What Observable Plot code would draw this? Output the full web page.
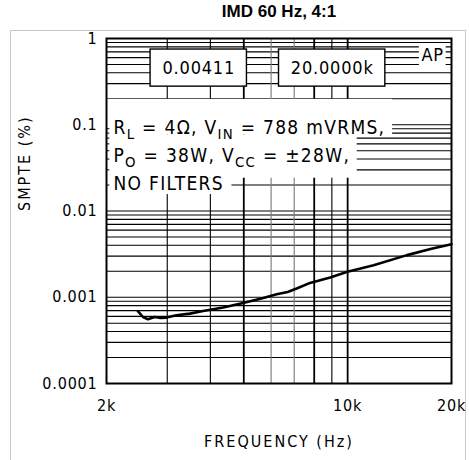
<!DOCTYPE html>
<html>
<head>
<meta charset="utf-8">
<script src="https://cdn.jsdelivr.net/npm/d3@7"></script>
<script src="https://cdn.jsdelivr.net/npm/@observablehq/plot@0.6"></script>
<style>
  body { margin: 0; background: #fff; }
  #wrap { position: relative; width: 469px; height: 460px; overflow: hidden; background: #fff; }
  #frame { position: absolute; left: 10px; top: 30px; width: 456px; height: 440px; border: 1px solid #c8c8c8; box-sizing: border-box; }
  #chart { position: absolute; left: 0; top: 0; }
  #title { position: absolute; left: 0; top: 2px; width: 558px; text-align: center;
           font-family: "Liberation Sans", Arial, sans-serif; font-weight: bold; font-size: 17px; line-height: 20px; color: #000; }
</style>
</head>
<body>
<div id="wrap">
  <div id="frame"></div>
  <div id="chart"></div>
  <div id="title">IMD 60 Hz, 4:1</div>
</div>
<script>
// ---- data ----
const freqHz = [2466, 2551, 2637, 2758, 2870, 2983, 3190, 3486, 3811, 4356, 4980, 5694, 6228, 6700, 7118, 7780, 8900, 9990, 11890, 14860, 17500, 20000];
const smptePct = [0.00069, 0.00059, 0.000555, 0.00059, 0.000575, 0.000581, 0.000618, 0.000646, 0.000693, 0.000759, 0.000859, 0.000982, 0.001084, 0.00115, 0.001262, 0.001466, 0.001694, 0.00197, 0.002355, 0.003079, 0.00365, 0.00411];

const xTicks = [2000, 10000, 20000];
const xTickLabels = ["2k", "10k", "20k"];
const yTicks = [1, 0.1, 0.01, 0.001, 0.0001];
const yTickLabels = ["1", "0.1", "0.01", "0.001", "0.0001"];

const gridFreqs = [3000, 4000, 5000, 6000, 7000, 8000, 9000, 10000];
const gridDecades = [0.0001, 0.001, 0.01, 0.1];
const gridMultipliers = [1, 2, 3, 4, 5, 6, 7, 8, 9];

const readoutValues = ["0.00411", "20.0000k"];
const noteLines = ["R_{L} = 4Ω, V_{IN} = 788 mVRMS,", "P_{O} = 38W, V_{CC} = ±28W,", "NO FILTERS"];
const badge = "AP";
const xTitle = "FREQUENCY (Hz)";
const yTitle = "SMPTE (%)";

// ---- annotation placement (data coordinates) ----
const readoutBoxes = [
  {x1: 2684, x2: 5106, y1: 0.745, y2: 0.2767, cx: 3702},
  {x1: 6325, x2: 12860, y1: 0.745, y2: 0.2767, cx: 9020}
];
const readoutY = 0.454;
const noteX = 2095;
const noteY = [0.0923, 0.0436, 0.0206];
const masks = [
  {x1: 2000, x2: 13500, y1: 0.197, y2: 0.076},
  {x1: 2000, x2: 10660, y1: 0.076, y2: 0.024},
  {x1: 2000, x2: 4620, y1: 0.024, y2: 0.0155},
  {x1: 16140, x2: 19300, y1: 0.86, y2: 0.47}
];
const badgePos = {x: 17640, y: 0.64};
const edgeTicks = [0.09, 0.08, 0.07, 0.06, 0.05, 0.04, 0.03, 0.02];

// ---- derived tables ----
const curve = freqHz.map((f, i) => ({f, v: smptePct[i]}));
const gridLevels = gridDecades.flatMap(d => gridMultipliers.map(m => d * m)).filter(v => v > 0.0001 && v < 1);
const xFmt = new Map(xTicks.map((t, i) => [t, xTickLabels[i]]));
const yFmt = new Map(yTicks.map((t, i) => [t, yTickLabels[i]]));

const FONT = '"DejaVu Sans Condensed", "DejaVu Sans", sans-serif';

const plot = Plot.plot({
  width: 469,
  height: 460,
  marginTop: 38,
  marginLeft: 106,
  marginRight: 18,
  marginBottom: 77,
  style: {background: "transparent", fontFamily: FONT, fontSize: "16px", fontStretch: "condensed", color: "#000"},
  x: {type: "log", domain: [2000, 20000]},
  y: {type: "log", domain: [0.0001, 1]},
  marks: [
    Plot.ruleY(gridLevels, {stroke: "#000", strokeWidth: 1.1}),
    Plot.ruleX(gridFreqs, {stroke: d => (d === 6000 || d === 7000) ? "#777" : "#000", strokeWidth: d => (d === 5000 || d === 10000 || d === 8000) ? 1.8 : 1.1}),
    Plot.rect(masks, {x1: "x1", x2: "x2", y1: "y1", y2: "y2", fill: "white"}),
    Plot.ruleY(edgeTicks, {x1: 2000, x2: 2045, stroke: "#000", strokeWidth: 1}),
    Plot.rect(readoutBoxes, {x1: "x1", x2: "x2", y1: "y1", y2: "y2", fill: "white", stroke: "#000", strokeWidth: 1.4}),
    Plot.text(readoutBoxes, {x: "cx", y: () => readoutY, text: (d, i) => readoutValues[i], fontSize: 18, fill: "#000", style: "letter-spacing:1.6px"}),
    Plot.text(noteLines, {x: () => noteX, y: (d, i) => noteY[i], text: d => d, textAnchor: "start", fontSize: 19, fill: "#000"}),
    Plot.text([badge], {x: () => badgePos.x, y: () => badgePos.y, text: d => d, fontSize: 18, fill: "#000"}),
    Plot.line(curve, {x: "f", y: "v", stroke: "#000", strokeWidth: 2.6, strokeLinejoin: "round"}),
    Plot.frame({stroke: "#000", strokeWidth: 2}),
    Plot.axisX({ticks: xTicks, tickFormat: d => xFmt.get(d), tickSize: 0, tickPadding: 16, label: null, fontSize: 16}),
    Plot.axisY({ticks: yTicks, tickFormat: d => yFmt.get(d), tickSize: 0, tickPadding: 9, label: null, fontSize: 16}),
    Plot.text([xTitle], {frameAnchor: "bottom", dy: 63, text: d => d, fontSize: 16, fill: "#000"}),
    Plot.text([yTitle], {frameAnchor: "left", dx: -82, rotate: -90, text: d => d, fontSize: 16, fill: "#000"})
  ]
});

// letter spacing for the technical-drawing look
plot.querySelectorAll("text").forEach(t => {
  const s = t.textContent;
  if (!t.getAttribute("style")) t.setAttribute("letter-spacing", s === xTitle || s === yTitle ? "2" : (noteLines.includes(s) ? "1.3" : "0.8"));
});

// subscripts: rewrite "_{..}" as lowered tspans
plot.querySelectorAll("text").forEach(t => {
  const s = t.textContent;
  if (!s.includes("_{")) return;
  t.textContent = "";
  const parts = s.split(/(_\{[^}]*\})/);
  let sub = false;
  parts.forEach(p => {
    if (!p) return;
    const ts = document.createElementNS("http://www.w3.org/2000/svg", "tspan");
    if (p.startsWith("_{")) {
      ts.textContent = p.slice(2, -1);
      ts.setAttribute("dy", "0.35em");
      ts.setAttribute("font-size", "0.78em");
      sub = true;
    } else {
      ts.textContent = p;
      if (sub) { ts.setAttribute("dy", "-0.27em"); sub = false; }
    }
    t.appendChild(ts);
  });
});

document.getElementById("chart").appendChild(plot);
</script>
</body>
</html>
